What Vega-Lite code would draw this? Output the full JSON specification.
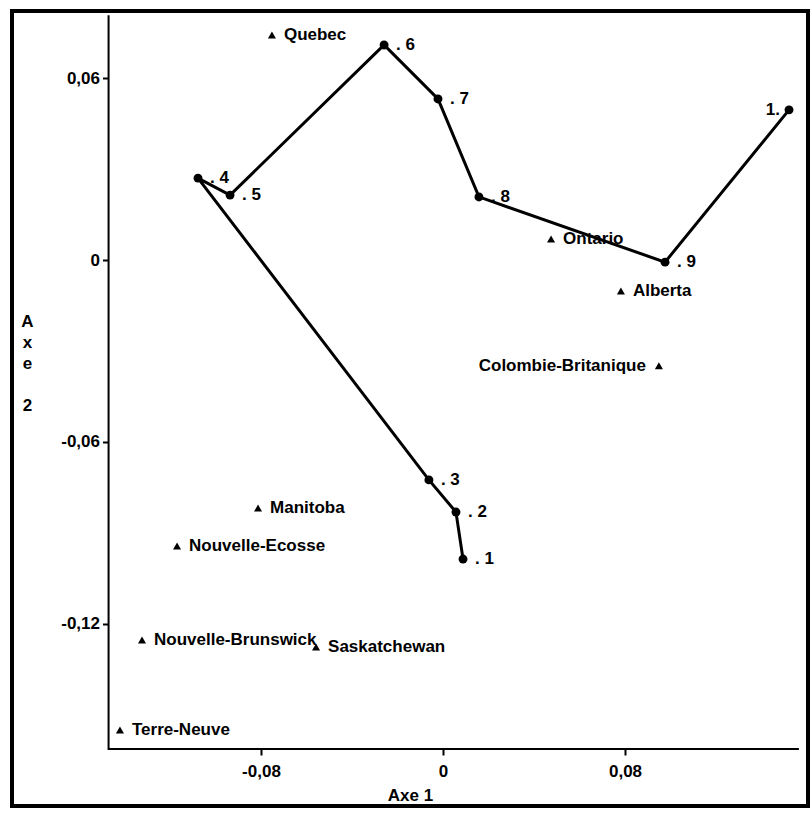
{
  "$schema": "https://vega.github.io/schema/vega-lite/v6.json",
  "width": 796,
  "height": 795,
  "autosize": {"type": "none"},
  "padding": {"left": 12, "top": 11, "right": 3, "bottom": 9},
  "background": "white",
  "config": {
    "view": {"stroke": "black", "strokeWidth": 4},
    "text": {"font": "Liberation Sans", "fontWeight": "bold", "fontSize": 17, "color": "black"}
  },
  "datasets": {
    "path": [
      {"order": 1, "label": ". 1", "x": 0.0088, "y": -0.0986},
      {"order": 2, "label": ". 2", "x": 0.0057, "y": -0.0831},
      {"order": 3, "label": ". 3", "x": -0.0062, "y": -0.0725},
      {"order": 4, "label": ". 4", "x": -0.1077, "y": 0.0270},
      {"order": 5, "label": ". 5", "x": -0.0936, "y": 0.0214},
      {"order": 6, "label": ". 6", "x": -0.0259, "y": 0.0709},
      {"order": 7, "label": ". 7", "x": -0.0022, "y": 0.0531},
      {"order": 8, "label": ". 8", "x": 0.0158, "y": 0.0208},
      {"order": 9, "label": ". 9", "x": 0.0976, "y": -0.0007},
      {"order": 10, "label": "1.", "x": 0.1521, "y": 0.0495}
    ],
    "prov": [
      {"name": "Quebec", "x": -0.0752, "y": 0.0742},
      {"name": "Ontario", "x": 0.0475, "y": 0.0069},
      {"name": "Alberta", "x": 0.0782, "y": -0.0102},
      {"name": "Colombie-Britanique", "x": 0.0949, "y": -0.0349},
      {"name": "Manitoba", "x": -0.0813, "y": -0.0818},
      {"name": "Nouvelle-Ecosse", "x": -0.1169, "y": -0.0943},
      {"name": "Nouvelle-Brunswick", "x": -0.1323, "y": -0.1253},
      {"name": "Saskatchewan", "x": -0.0558, "y": -0.1276},
      {"name": "Terre-Neuve", "x": -0.1420, "y": -0.1550}
    ],
    "axisline": [
      {"k": 1, "x": 0.156, "y": -0.1612},
      {"k": 2, "x": -0.147, "y": -0.1612},
      {"k": 3, "x": -0.147, "y": 0.0804}
    ]
  },
  "layer": [
    {
      "data": {"name": "axisline"},
      "mark": {"type": "line", "color": "black", "strokeWidth": 2, "strokeCap": "square"},
      "encoding": {
        "x": {
          "field": "x", "type": "quantitative",
          "scale": {"domain": [-0.18945, 0.16044], "nice": false, "zero": false},
          "axis": {
            "orient": "bottom", "offset": -57, "domain": false, "grid": false,
            "values": [-0.08, 0, 0.08],
            "labelExpr": "replace(datum.value + '', '.', ',')",
            "tickSize": 6, "tickWidth": 2, "tickColor": "black",
            "labelFont": "Liberation Sans", "labelFontWeight": "bold", "labelFontSize": 17, "labelColor": "black",
            "labelPadding": 8, "labelFlush": false, "labelOverlap": false,
            "title": "Axe 1", "titleFont": "Liberation Sans", "titleFontWeight": "bold", "titleFontSize": 17, "titleColor": "black",
            "titleY": 38, "titleBaseline": "top"
          }
        },
        "y": {
          "field": "y", "type": "quantitative",
          "scale": {"domain": [-0.18002, 0.0821], "nice": false, "zero": false},
          "axis": {
            "orient": "left", "offset": -96.5, "domain": false, "grid": false,
            "values": [-0.12, -0.06, 0, 0.06],
            "labelExpr": "replace(datum.value + '', '.', ',')",
            "tickSize": 6, "tickWidth": 2, "tickColor": "black",
            "labelFont": "Liberation Sans", "labelFontWeight": "bold", "labelFontSize": 17, "labelColor": "black",
            "labelPadding": 3, "labelFlush": false, "labelOverlap": false,
            "title": ["A", "x", "e", "\u200b", "2"], "titleAngle": 0, "titleAlign": "center", "titleBaseline": "top",
            "titleX": -81.5, "titleY": 302, "titleLineHeight": 21,
            "titleFont": "Liberation Sans", "titleFontWeight": "bold", "titleFontSize": 17, "titleColor": "black"
          }
        },
        "order": {"field": "k", "type": "quantitative"}
      }
    },
    {
      "data": {"name": "path"},
      "mark": {"type": "line", "color": "black", "strokeWidth": 3},
      "encoding": {
        "x": {"field": "x", "type": "quantitative"},
        "y": {"field": "y", "type": "quantitative"},
        "order": {"field": "order", "type": "quantitative"}
      }
    },
    {
      "data": {"name": "path"},
      "mark": {"type": "point", "shape": "circle", "filled": true, "color": "black", "opacity": 1, "size": 80},
      "encoding": {
        "x": {"field": "x", "type": "quantitative"},
        "y": {"field": "y", "type": "quantitative"}
      }
    },
    {
      "data": {"name": "path"},
      "transform": [{"filter": "datum.order != 10"}],
      "mark": {"type": "text", "align": "left", "baseline": "middle", "dx": 12},
      "encoding": {
        "x": {"field": "x", "type": "quantitative"},
        "y": {"field": "y", "type": "quantitative"},
        "text": {"field": "label"}
      }
    },
    {
      "data": {"name": "path"},
      "transform": [{"filter": "datum.order == 10"}],
      "mark": {"type": "text", "align": "right", "baseline": "middle", "dx": -9},
      "encoding": {
        "x": {"field": "x", "type": "quantitative"},
        "y": {"field": "y", "type": "quantitative"},
        "text": {"field": "label"}
      }
    },
    {
      "data": {"name": "prov"},
      "mark": {"type": "point", "shape": "triangle-up", "filled": true, "color": "black", "opacity": 1, "size": 65},
      "encoding": {
        "x": {"field": "x", "type": "quantitative"},
        "y": {"field": "y", "type": "quantitative"}
      }
    },
    {
      "data": {"name": "prov"},
      "transform": [{"filter": "datum.name != 'Colombie-Britanique'"}],
      "mark": {"type": "text", "align": "left", "baseline": "middle", "dx": 12},
      "encoding": {
        "x": {"field": "x", "type": "quantitative"},
        "y": {"field": "y", "type": "quantitative"},
        "text": {"field": "name"}
      }
    },
    {
      "data": {"name": "prov"},
      "transform": [{"filter": "datum.name == 'Colombie-Britanique'"}],
      "mark": {"type": "text", "align": "right", "baseline": "middle", "dx": -13},
      "encoding": {
        "x": {"field": "x", "type": "quantitative"},
        "y": {"field": "y", "type": "quantitative"},
        "text": {"field": "name"}
      }
    }
  ]
}
